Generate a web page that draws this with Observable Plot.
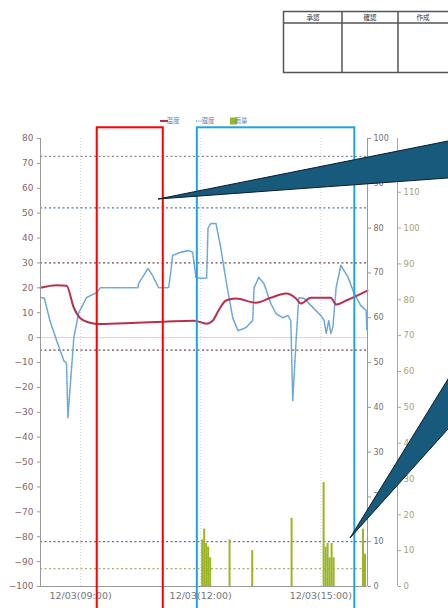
<!DOCTYPE html>
<html><head><meta charset="utf-8">
<script src="https://cdn.jsdelivr.net/npm/d3@7"></script>
<script src="https://cdn.jsdelivr.net/npm/@observablehq/plot@0.6"></script>
<style>body{margin:0;background:#fff;} #chart{width:448px;height:608px;overflow:hidden;}</style>
</head><body><div id="chart"></div>
<script>
// ---- data ----
const tempTimes  = ["08:00","08:24","08:39","08:50","08:59","09:14","09:29","10:24","11:05","11:50","12:09","12:18","12:27","12:38","12:53","13:23","13:45","14:08","14:23","14:30","14:45","15:15","15:23","15:38","16:10"];
const tempValues = [20,21,20.8,12,8,6,5.5,6,6.4,6.8,5.6,6.8,11,14.9,15.7,14,16,17.7,15.7,13.7,16,16,13.3,14.9,18.9];

const humTimes  = ["08:01","08:06","08:14","08:24","08:35","08:39","08:41","08:50","08:57","09:09","09:24","09:30","10:26","10:27","10:41","10:48","10:57","11:12","11:15","11:18","11:30","11:42","11:48","11:53","12:00","12:09","12:11","12:15","12:23","12:30","12:38","12:48","12:56","13:08","13:18","13:20","13:27","13:35","13:45","13:53","14:03","14:11","14:15","14:18","14:23","14:27","14:35","14:50","15:00","15:05","15:08","15:12","15:15","15:18","15:23","15:30","15:41","15:50","16:00","16:08","16:09"];
const humValues = [64.5,64.3,59.4,55,50.4,49.8,37.7,55.6,61,64.5,65.6,66.7,66.7,67.6,71,69.4,66.7,66.7,69.9,73.9,74.6,75,74.6,69,68.8,68.8,80,81,81,75.7,68.3,60,57.1,57.8,59.4,66.7,69,67.6,63.2,60.9,60,60.5,59.4,41.5,54.9,64.5,64.3,62,60.5,59.4,56.5,59.4,56.5,57.8,66.7,71.7,69,65.4,62.7,61.6,57.1];

const rainTimes  = ["12:03","12:06","12:09","12:12","12:15","12:44","13:18","14:17","15:05","15:08","15:11","15:14","15:17","15:20","16:04","16:07"];
const rainValues = [13,16,12,11,8,13,10,19,29,11,12,8,12,8,16,9];

const xTickTimes = ["09:00","12:00","15:00"];
const dateLabel  = "12/03";
const tempTicks  = d3.range(-100, 81, 10);
const humTicks   = d3.range(0, 101, 10);
const rainTicks  = d3.range(0, 121, 10);

const thresholdAxes   = ["rain","humidity","temp","temp","humidity","rain"];
const thresholdValues = [120, 84.5, 30, -5, 10, 5];
const thresholdColors = ["#8a8a8a","#5577a8","#6a4a58","#6a4a58","#5577a8","#b0aa70"];

const legendLabels = ["温度","湿度","雨量"];
const tableHeaders = ["承認","確認","作成"];

const redRange  = ["09:25","11:04"];
const blueRange = ["11:55","15:51"];

// ---- helpers ----
const T = s => { const [h,m] = s.split(":").map(Number); return new Date(2000, 11, 3, h, m); };
const humToY  = h => -100 + h * 1.8;
const rainToY = r => -100 + r * 180 / 125;
const conv = {temp: v => v, humidity: humToY, rain: rainToY};

const tempData = tempTimes.map((t,i) => ({t: T(t), v: tempValues[i]}));
const humData  = humTimes.map((t,i) => ({t: T(t), v: humValues[i]}));
const rainData = rainTimes.map((t,i) => ({t: T(t), v: rainValues[i]}));
const thrData  = thresholdValues.map((v,i) => ({y: conv[thresholdAxes[i]](v), c: thresholdColors[i]}));
const boxes = [
  {x1: T(redRange[0]),  x2: T(redRange[1]),  c: "#ff0000"},
  {x1: T(blueRange[0]), x2: T(blueRange[1]), c: "#1ea5e0"}
];
const xEnd = T("16:10");

const chart = Plot.plot({
  width: 448, height: 608,
  marginLeft: 40, marginRight: 81, marginTop: 138, marginBottom: 22,
  style: {fontFamily: "DejaVu Sans, sans-serif", background: "#fff", overflow: "visible"},
  x: {type: "time", domain: [T("08:00"), xEnd]},
  y: {domain: [-100, 80]},
  marks: [
    Plot.ruleX(xTickTimes.map(T), {stroke: "#d4d4d4", strokeDasharray: "1,2"}),
    Plot.ruleY([0], {stroke: "#e2d0d0"}),
    Plot.ruleY(thrData, {y: "y", stroke: "c", strokeWidth: 1.2, strokeDasharray: "2,2.5"}),
    Plot.rectY(rainData, {x1: d => new Date(+d.t - 90000), x2: d => new Date(+d.t + 90000), y1: d => -100, y2: d => rainToY(d.v), fill: "#9ab526"}),
    Plot.line(humData, {x: "t", y: d => humToY(d.v), stroke: "#6aa6d6", strokeWidth: 1.6, strokeDasharray: "1,1.3"}),
    Plot.line(tempData, {x: "t", y: "v", stroke: "#b8304f", strokeWidth: 2, curve: "monotone-x"}),
    // axis lines
    Plot.ruleX([T("08:00")], {stroke: "#9a9a9a"}),
    Plot.ruleX([xEnd], {stroke: "#9a9a9a"}),
    Plot.ruleX([xEnd], {stroke: "#a8a8a8", dx: 30}),
    Plot.ruleY([-100], {stroke: "#9a9a9a"}),
    Plot.axisY(tempTicks, {anchor: "left", tickSize: 3, tickPadding: 4, fontSize: 9, fill: "#86666e", stroke: "#999", label: null}),
    Plot.axisY(humTicks.map(humToY), {anchor: "right", tickSize: 3, tickPadding: 3, fontSize: 8, fill: "#707070", stroke: "#999", label: null, tickFormat: d => Math.round((d + 100) / 1.8)}),
    Plot.axisY(rainTicks.map(rainToY), {anchor: "right", dx: 30, tickSize: 3, tickPadding: 3, fontSize: 8.5, fill: "#a4a27a", stroke: "#aaa", label: null, tickFormat: d => Math.round((d + 100) * 125 / 180)}),
    Plot.axisX(xTickTimes.map(T), {anchor: "bottom", tickSize: 0, tickPadding: 6, fontSize: 9.5, fill: "#777", label: null, tickFormat: d => dateLabel + "(" + d3.timeFormat("%H:%M")(d) + ")"}),
    // highlight boxes
    Plot.rect(boxes, {x1: "x1", x2: "x2", y1: d => -112, y2: d => 84.3, fill: "none", stroke: "c", strokeWidth: 2})
  ]
});
document.getElementById("chart").appendChild(chart);

// ---- overlays: legend, approval table, callouts ----
const svg = d3.select(chart);
const lg = svg.append("g").attr("font-family", "Noto Sans CJK JP, sans-serif").attr("font-size", 6.5).attr("fill", "#5f86b0");
lg.append("line").attr("x1",160).attr("x2",168).attr("y1",121).attr("y2",121).attr("stroke","#b8304f").attr("stroke-width",2);
lg.append("text").attr("x",173).attr("y",121).attr("dy","0.35em").text(legendLabels[0]);
lg.append("line").attr("x1",196).attr("x2",204).attr("y1",121).attr("y2",121).attr("stroke","#6aa6d6").attr("stroke-width",1.4).attr("stroke-dasharray","1,1.3");
lg.append("text").attr("x",208).attr("y",121).attr("dy","0.35em").text(legendLabels[1]);
lg.append("rect").attr("x",230).attr("y",117.5).attr("width",7).attr("height",7).attr("fill","#9ab526");
lg.append("text").attr("x",241).attr("y",121).attr("dy","0.35em").text(legendLabels[2]);

const tb = svg.append("g").attr("stroke", "#555").attr("stroke-width", 1.5).attr("fill", "none");
tb.append("rect").attr("x",283.5).attr("y",11.5).attr("width",200).attr("height",61);
tb.append("line").attr("x1",283.5).attr("x2",460).attr("y1",23).attr("y2",23);
[342, 398].forEach(x => tb.append("line").attr("x1",x).attr("x2",x).attr("y1",11.5).attr("y2",72.5));
const tt = svg.append("g").attr("font-family", "Noto Sans CJK JP, sans-serif").attr("font-size", 6.5).attr("fill", "#333").attr("text-anchor", "middle");
[313, 370, 423].forEach((x,i) => tt.append("text").attr("x",x).attr("y",17.5).attr("dy","0.35em").text(tableHeaders[i]));

const co = svg.append("g").attr("fill", "#175a7c").attr("stroke", "#0b1e2a").attr("stroke-width", 1);
co.append("polygon").attr("points", "158,199 460,138.6 460,177.1");
co.append("polygon").attr("points", "350,538 460,359.6 460,415.6");
</script>
</body></html>
